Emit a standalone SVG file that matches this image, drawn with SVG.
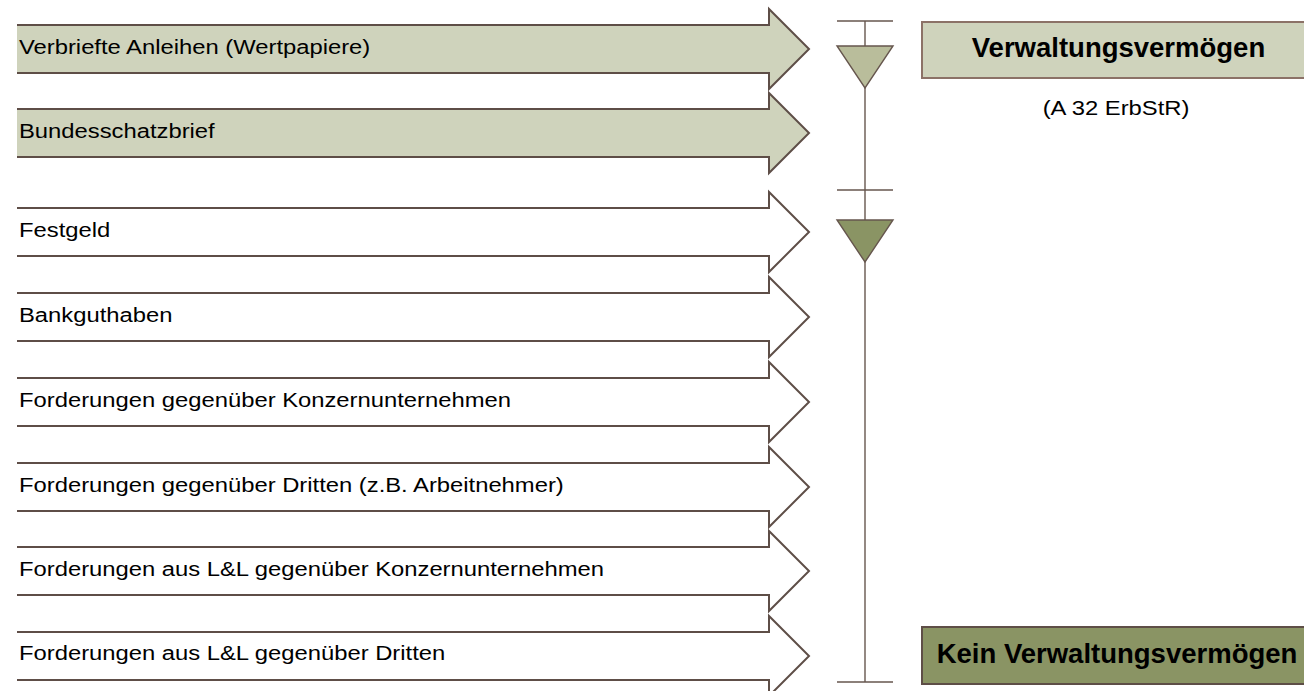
<svg xmlns="http://www.w3.org/2000/svg" width="1304" height="691" viewBox="0 0 1304 691">
<style>
.fill-light{fill:#cfd3bc;stroke:none}
.fill-white{fill:#ffffff;stroke:none}
.outline{fill:none;stroke:#5e4e47;stroke-width:2;stroke-linejoin:miter}
.lbl{font-family:"Liberation Sans",Arial,sans-serif;font-size:20px;fill:#000}
.big{font-family:"Liberation Sans",Arial,sans-serif;font-size:27.5px;font-weight:bold;fill:#000;text-anchor:middle}
.axis{stroke:#66564e;stroke-width:1.4;fill:none}
</style>
<rect width="1304" height="691" fill="#ffffff"/>

<g id="arrow1">
<polygon class="fill-light" points="17,25 769,25 769,9 809,49 769,89 769,73 17,73"/>
<polyline class="outline" points="17,25 769,25 769,9 809,49 769,89 769,73 17,73"/>
<text class="lbl" transform="matrix(1.19 0 0 1 19 54)">Verbriefte Anleihen (Wertpapiere)</text>
</g>
<g id="arrow2">
<polygon class="fill-light" points="17,109 769,109 769,93 809,133 769,173 769,157 17,157"/>
<polyline class="outline" points="17,109 769,109 769,93 809,133 769,173 769,157 17,157"/>
<text class="lbl" transform="matrix(1.19 0 0 1 19 138)">Bundesschatzbrief</text>
</g>
<g id="arrow3">
<polygon class="fill-white" points="17,208 769,208 769,192 809,232 769,272 769,256 17,256"/>
<polyline class="outline" points="17,208 769,208 769,192 809,232 769,272 769,256 17,256"/>
<text class="lbl" transform="matrix(1.19 0 0 1 19 237)">Festgeld</text>
</g>
<g id="arrow4">
<polygon class="fill-white" points="17,293 769,293 769,277 809,317 769,357 769,341 17,341"/>
<polyline class="outline" points="17,293 769,293 769,277 809,317 769,357 769,341 17,341"/>
<text class="lbl" transform="matrix(1.19 0 0 1 19 322)">Bankguthaben</text>
</g>
<g id="arrow5">
<polygon class="fill-white" points="17,378 769,378 769,362 809,402 769,442 769,426 17,426"/>
<polyline class="outline" points="17,378 769,378 769,362 809,402 769,442 769,426 17,426"/>
<text class="lbl" transform="matrix(1.19 0 0 1 19 407)">Forderungen gegenüber Konzernunternehmen</text>
</g>
<g id="arrow6">
<polygon class="fill-white" points="17,463 769,463 769,447 809,487 769,527 769,511 17,511"/>
<polyline class="outline" points="17,463 769,463 769,447 809,487 769,527 769,511 17,511"/>
<text class="lbl" transform="matrix(1.19 0 0 1 19 492)">Forderungen gegenüber Dritten (z.B. Arbeitnehmer)</text>
</g>
<g id="arrow7">
<polygon class="fill-white" points="17,547 769,547 769,531 809,571 769,611 769,595 17,595"/>
<polyline class="outline" points="17,547 769,547 769,531 809,571 769,611 769,595 17,595"/>
<text class="lbl" transform="matrix(1.19 0 0 1 19 576)">Forderungen aus L&amp;L gegenüber Konzernunternehmen</text>
</g>
<g id="arrow8">
<polygon class="fill-white" points="17,632 769,632 769,616 809,656 769,696 769,680 17,680"/>
<polyline class="outline" points="17,632 769,632 769,616 809,656 769,696 769,680 17,680"/>
<text class="lbl" transform="matrix(1.19 0 0 1 19 660)">Forderungen aus L&amp;L gegenüber Dritten</text>
</g>

<g id="connectors">
<line class="axis" x1="865" y1="21" x2="865" y2="682"/>
<line class="axis" x1="837" y1="21" x2="893" y2="21"/>
<line class="axis" x1="837" y1="190" x2="893" y2="190"/>
<line class="axis" x1="837" y1="682" x2="893" y2="682"/>
</g>

<g id="marker1">
<polygon points="837,46 893,46 865,88" fill="#b9bd9b" stroke="#66564e" stroke-width="1.4"/>
</g>
<g id="marker2">
<polygon points="837,220 893,220 865,262" fill="#8a9464" stroke="#66564e" stroke-width="1.4"/>
</g>

<g id="box-verwaltung">
<rect x="922" y="22" width="400" height="56" fill="#cfd3bc" stroke="#8c7267" stroke-width="2"/>
<text class="big" x="1118.5" y="57">Verwaltungsvermögen</text>
<text class="lbl" text-anchor="middle" transform="matrix(1.19 0 0 1 1116 115)">(A 32 ErbStR)</text>
</g>
<g id="box-kein">
<rect x="922" y="627" width="400" height="57" fill="#8a9464" stroke="#5e4e47" stroke-width="2"/>
<text class="big" x="1117" y="663">Kein Verwaltungsvermögen</text>
</g>
</svg>
